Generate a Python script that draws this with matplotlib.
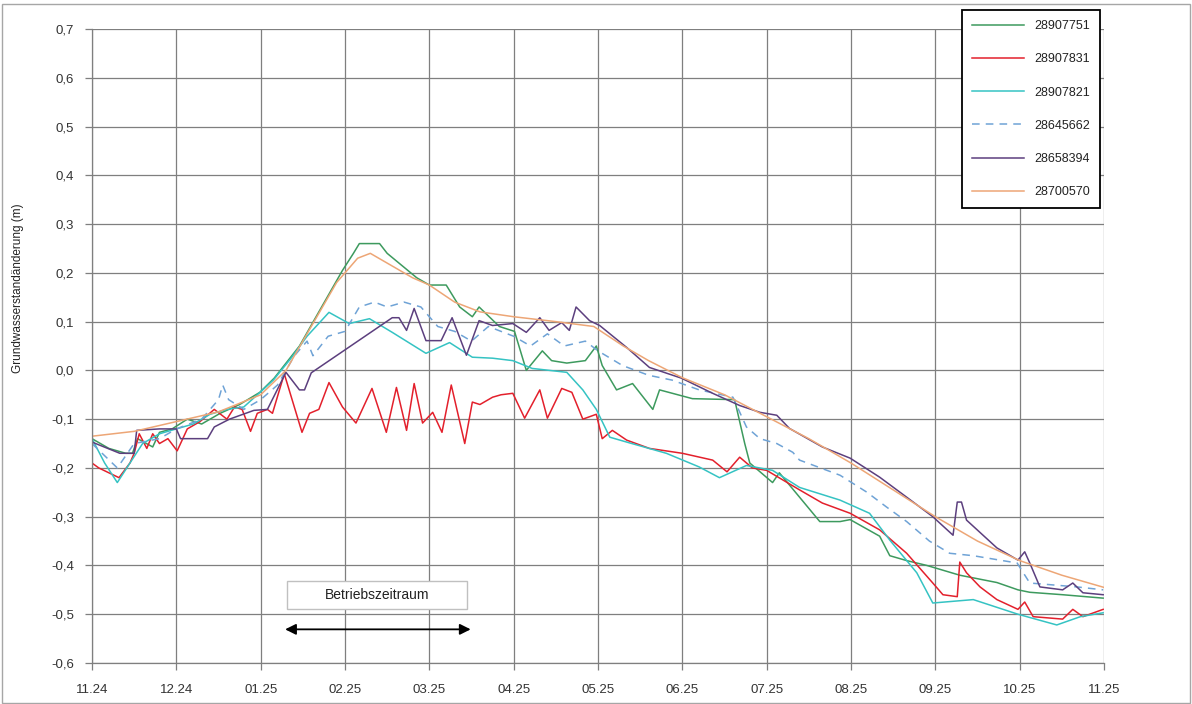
import matplotlib
matplotlib.use('Agg')
import matplotlib.pyplot as plt
from matplotlib.patches import Rectangle
from matplotlib.ticker import FuncFormatter, MultipleLocator

plt.rcParams['font.family'] = ['Liberation Sans', 'DejaVu Sans']

# x-Achse: Monate ab 11.24 (0 = 11.24, 12 = 11.25)
month_labels = ['11.24', '12.24', '01.25', '02.25', '03.25', '04.25', '05.25',
                '06.25', '07.25', '08.25', '09.25', '10.25', '11.25']

# 28907751
t_751 = [0, 0.2, 0.4, 0.48, 0.54, 0.72, 0.8, 0.95, 1.13, 1.3, 1.52, 1.75, 1.99, 2.16,
         2.46, 2.69, 2.97, 3.1, 3.17, 3.41, 3.5, 3.64, 3.85, 4.0, 4.2, 4.36, 4.51, 4.59,
         4.83, 5.01, 5.15, 5.34, 5.45, 5.63, 5.85, 5.98, 6.05, 6.22, 6.41, 6.65, 6.73,
         7.12, 7.62, 7.74, 7.8, 8.07, 8.15, 8.39, 8.63, 8.87, 8.99, 9.34, 9.46, 9.66,
         9.9, 10.29, 10.73, 10.98, 11.12, 11.51, 11.99]
v_751 = [-0.14, -0.16, -0.17, -0.17, -0.14, -0.157, -0.127, -0.12, -0.10, -0.11, -0.088,
         -0.07, -0.045, -0.016, 0.05, 0.12, 0.205, 0.24, 0.26, 0.26, 0.24, 0.22, 0.19,
         0.175, 0.175, 0.13, 0.11, 0.13, 0.09, 0.08, 0.0, 0.04, 0.02, 0.015, 0.02, 0.05,
         0.01, -0.04, -0.027, -0.08, -0.04, -0.058, -0.06, -0.15, -0.19, -0.23, -0.21,
         -0.26, -0.31, -0.31, -0.306, -0.34, -0.38, -0.39, -0.40, -0.42, -0.435, -0.45,
         -0.455, -0.46, -0.467]

# 28907831
t_831 = [0, 0.08, 0.2, 0.32, 0.45, 0.5, 0.56, 0.65, 0.72, 0.8, 0.9, 1.01, 1.13, 1.28,
         1.45, 1.6, 1.69, 1.78, 1.88, 1.96, 2.08, 2.14, 2.28, 2.49, 2.58, 2.69, 2.81,
         2.97, 3.13, 3.32, 3.49, 3.61, 3.73, 3.82, 3.92, 4.04, 4.15, 4.26, 4.42, 4.51,
         4.6, 4.75, 4.85, 4.99, 5.13, 5.31, 5.4, 5.57, 5.69, 5.82, 5.98, 6.05, 6.17,
         6.34, 6.61, 7.0, 7.36, 7.53, 7.68, 7.83, 8.0, 8.39, 8.66, 8.99, 9.34, 9.66,
         9.97, 10.09, 10.26, 10.29, 10.37, 10.53, 10.73, 10.98, 11.06, 11.16, 11.51,
         11.63, 11.75, 11.99]
v_831 = [-0.19, -0.20, -0.21, -0.22, -0.19, -0.17, -0.13, -0.16, -0.13, -0.15, -0.14,
         -0.165, -0.12, -0.105, -0.08, -0.10, -0.075, -0.08, -0.125, -0.088, -0.08,
         -0.088, -0.007, -0.127, -0.088, -0.08, -0.025, -0.075, -0.108, -0.037, -0.127,
         -0.035, -0.123, -0.027, -0.108, -0.086, -0.127, -0.03, -0.15, -0.065, -0.07,
         -0.055, -0.05, -0.047, -0.098, -0.04, -0.098, -0.037, -0.045, -0.10, -0.09,
         -0.14, -0.123, -0.143, -0.16, -0.17, -0.184, -0.208, -0.178, -0.20, -0.205,
         -0.245, -0.272, -0.293, -0.327, -0.375, -0.436, -0.46, -0.464, -0.393, -0.415,
         -0.444, -0.47, -0.49, -0.475, -0.505, -0.51, -0.49, -0.505, -0.49]

# 28907821
t_821 = [0, 0.15, 0.3, 0.45, 0.6, 0.8, 1.0, 1.2, 1.4, 1.6, 1.8, 1.98, 2.15, 2.37, 2.55,
         2.81, 3.05, 3.29, 3.56, 3.96, 4.24, 4.51, 4.75, 4.99, 5.22, 5.63, 5.82, 5.98,
         6.14, 6.34, 6.81, 7.2, 7.44, 7.76, 8.07, 8.39, 8.87, 9.22, 9.46, 9.78, 9.97,
         10.45, 10.98, 11.44, 11.72, 11.99]
v_821 = [-0.14, -0.19, -0.23, -0.19, -0.15, -0.13, -0.12, -0.11, -0.09, -0.08, -0.075,
         -0.047, -0.02, 0.027, 0.07, 0.119, 0.096, 0.106, 0.078, 0.035, 0.057, 0.027,
         0.025, 0.02, 0.004, -0.004, -0.04, -0.08, -0.137, -0.147, -0.17, -0.198, -0.22,
         -0.195, -0.205, -0.24, -0.266, -0.293, -0.348, -0.415, -0.477, -0.47, -0.50,
         -0.522, -0.505, -0.497]

# 28645662
t_662 = [0, 0.3, 0.5, 0.8, 1.0, 1.3, 1.5, 1.55, 1.62, 1.8, 2.0, 2.2, 2.4, 2.55, 2.62,
         2.8, 3.0, 3.17, 3.35, 3.5, 3.7, 3.9, 4.1, 4.3, 4.5, 4.7, 5.0, 5.2, 5.4, 5.6,
         5.85, 6.0, 6.29, 6.6, 6.88, 7.2, 7.6, 7.76, 7.92, 8.12, 8.31, 8.39, 8.87, 9.19,
         9.42, 9.66, 9.93, 10.17, 10.45, 10.97, 11.12, 11.68, 11.99]
v_662 = [-0.15, -0.20, -0.15, -0.14, -0.12, -0.10, -0.06, -0.03, -0.06, -0.08, -0.06,
         -0.03, 0.03, 0.06, 0.03, 0.07, 0.08, 0.13, 0.14, 0.13, 0.14, 0.13, 0.09, 0.08,
         0.06, 0.09, 0.07, 0.05, 0.075, 0.05, 0.06, 0.04, 0.01, -0.01, -0.02, -0.04,
         -0.055, -0.116, -0.14, -0.15, -0.168, -0.184, -0.215, -0.25, -0.28, -0.31,
         -0.35, -0.375, -0.38, -0.395, -0.436, -0.444, -0.45]

# 28658394
t_394 = [0, 0.33, 0.5, 0.53, 0.8, 1.0, 1.05, 1.37, 1.45, 1.63, 1.92, 2.08, 2.3, 2.46,
         2.52, 2.6, 3.56, 3.64, 3.73, 3.82, 3.96, 4.14, 4.27, 4.44, 4.59, 4.75, 4.99,
         5.15, 5.31, 5.42, 5.57, 5.66, 5.74, 5.9, 6.02, 6.34, 6.61, 6.99, 7.36, 7.68,
         7.92, 8.12, 8.27, 8.66, 8.99, 9.34, 9.66, 9.97, 10.21, 10.26, 10.31, 10.37,
         10.73, 10.98, 11.06, 11.12, 11.24, 11.51, 11.63, 11.75, 11.99]
v_394 = [-0.147, -0.17, -0.17, -0.123, -0.12, -0.12, -0.14, -0.14, -0.116, -0.10,
         -0.082, -0.08, -0.004, -0.04, -0.04, -0.005, 0.108, 0.108, 0.082, 0.127, 0.061,
         0.061, 0.108, 0.031, 0.102, 0.092, 0.096, 0.078, 0.108, 0.082, 0.098, 0.082,
         0.13, 0.102, 0.092, 0.047, 0.006, -0.016, -0.047, -0.072, -0.086, -0.092,
         -0.119, -0.157, -0.18, -0.219, -0.26, -0.30, -0.338, -0.27, -0.27, -0.307,
         -0.364, -0.389, -0.372, -0.395, -0.444, -0.45, -0.436, -0.456, -0.46]

# 28700570
t_570 = [0, 0.5, 1.0, 1.5, 2.0, 2.3, 2.5, 2.7, 2.9, 3.0, 3.15, 3.3, 3.5, 3.8, 4.0, 4.3,
         4.6, 5.0, 5.5, 5.95, 6.3, 6.6, 7.0, 7.5, 8.0, 8.5, 9.0, 9.5, 10.0, 10.5, 11.0,
         11.5, 12.0]
v_570 = [-0.135, -0.125, -0.105, -0.085, -0.05, 0.0, 0.06, 0.12, 0.18, 0.2, 0.23, 0.24,
         0.22, 0.19, 0.175, 0.14, 0.12, 0.11, 0.10, 0.09, 0.05, 0.02, -0.015, -0.05,
         -0.095, -0.14, -0.19, -0.245, -0.30, -0.35, -0.39, -0.42, -0.445]

series = [
    ('28907751', t_751, v_751, '#3d9a5e', '-'),
    ('28907831', t_831, v_831, '#e3202c', '-'),
    ('28907821', t_821, v_821, '#35c3c3', '-'),
    ('28645662', t_662, v_662, '#6fa3d6', (0, (5, 4))),
    ('28658394', t_394, v_394, '#5c3f7e', '-'),
    ('28700570', t_570, v_570, '#eda676', '-'),
]

fig = plt.figure(figsize=(11.92, 7.04), dpi=100)
ax = fig.add_axes([92 / 1192, 1 - 663 / 704, (1104 - 92) / 1192, (663 - 29) / 704])

for name, t, v, color, ls in series:
    ax.plot(t, v, color=color, linestyle=ls, linewidth=1.1, label=name)

ax.set_xlim(0, 12)
ax.set_ylim(-0.6, 0.7)
ax.set_xticks(range(len(month_labels)))
ax.set_xticklabels(month_labels)
ax.yaxis.set_major_locator(MultipleLocator(0.1))
ax.yaxis.set_major_formatter(FuncFormatter(lambda y, _: f'{y:.1f}'.replace('.', ',').replace('-0,0', '0,0')))

ax.grid(True, color='#7f7f7f', linewidth=0.9)
ax.set_axisbelow(True)
for side in ['top', 'right']:
    ax.spines[side].set_visible(False)
for side in ['left', 'bottom']:
    ax.spines[side].set_color('#7f7f7f')
    ax.spines[side].set_linewidth(0.9)
ax.tick_params(direction='out', length=5, width=0.9, color='#7f7f7f',
               labelsize=9.5, labelcolor='#333333')
ax.tick_params(axis='x', pad=10)
ax.tick_params(axis='y', pad=8)

fig.text(18 / 1192, 1 - 288 / 704, 'Grundwasserstandänderung (m)', rotation=90,
         ha='center', va='center', fontsize=8.5, color='#222222')

# Betriebszeitraum
ax.add_patch(Rectangle((2.31, -0.49), 2.14, 0.059, facecolor='white',
                       edgecolor='#c0c0c0', linewidth=1.0, zorder=5))
ax.text(3.38, -0.461, 'Betriebszeitraum', ha='center', va='center',
        fontsize=10, color='#222222', zorder=6)
ax.annotate('', xy=(4.49, -0.531), xytext=(2.29, -0.531),
            arrowprops=dict(arrowstyle='<|-|>', color='black', lw=1.3,
                            mutation_scale=16, shrinkA=0, shrinkB=0), zorder=6)

leg = ax.legend(loc='upper right', bbox_to_anchor=(1100 / 1192, 1 - 10 / 704),
                bbox_transform=fig.transFigure, fontsize=9, frameon=True,
                fancybox=False, edgecolor='black', framealpha=1,
                handlelength=4.2, handletextpad=0.8, labelspacing=1.7,
                borderpad=0.8, borderaxespad=0)
leg.get_frame().set_linewidth(1.3)
for txt in leg.get_texts():
    txt.set_color('#222222')

fig.patches.append(Rectangle((0.002, 0.002), 0.996, 0.993, transform=fig.transFigure,
                             fill=False, edgecolor='#a6a6a6', linewidth=1.0))

fig.savefig('out.png', dpi=100)
